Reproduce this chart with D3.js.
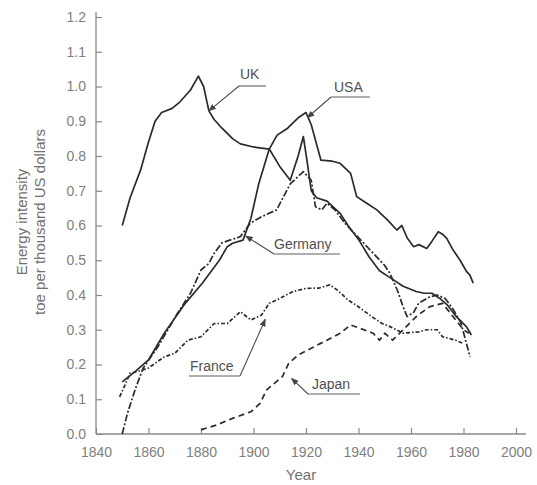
<!DOCTYPE html>
<html>
<head>
<meta charset="utf-8">
<script src="https://cdn.jsdelivr.net/npm/d3@7"></script>
<style>
  html, body { margin: 0; padding: 0; background: #fff; }
  svg { display: block; }
  text { font-family: "Liberation Sans", Arial, sans-serif; }
</style>
</head>
<body>
<svg id="chart" width="537" height="485"></svg>
<script>
// ---- Data (year, toe per thousand US dollars) ----
const xTicks = [1840, 1860, 1880, 1900, 1920, 1940, 1960, 1980, 2000];
const yTicks = [0.0, 0.1, 0.2, 0.3, 0.4, 0.5, 0.6, 0.7, 0.8, 0.9, 1.0, 1.1, 1.2];

const ukYears  = [1850,1853,1857,1860,1862.5,1865,1869,1872,1876,1879,1881,1883,1885,1888,1892,1895,1900,1906,1910,1914,1917,1919,1920.5,1922,1924,1928,1933,1936,1940,1944,1948,1952,1957,1962,1965,1968,1971,1974,1977,1981,1983];
const ukVals   = [0.60,0.68,0.76,0.84,0.90,0.925,0.937,0.956,0.99,1.03,1.00,0.93,0.905,0.88,0.85,0.835,0.826,0.82,0.77,0.73,0.80,0.856,0.78,0.70,0.68,0.67,0.635,0.60,0.56,0.51,0.47,0.45,0.425,0.41,0.405,0.405,0.39,0.37,0.34,0.31,0.285];

const usaYears = [1850,1855,1860,1866,1874,1880.5,1887,1890,1892,1896,1899,1902,1906,1909,1913,1917,1920,1922,1925.7,1930,1933,1937,1939.3,1943,1947,1951,1954.6,1956.5,1958.5,1961,1963,1966,1968,1970.4,1972,1973.6,1976,1978.7,1981.2,1982.4,1983.7];
const usaVals  = [0.15,0.18,0.213,0.29,0.376,0.434,0.50,0.539,0.549,0.558,0.62,0.72,0.82,0.86,0.88,0.91,0.925,0.89,0.788,0.785,0.779,0.75,0.683,0.665,0.645,0.616,0.587,0.60,0.565,0.539,0.545,0.534,0.555,0.582,0.575,0.563,0.53,0.50,0.467,0.458,0.434];

const deYears  = [1850,1852,1855,1858,1863.5,1871,1876,1880,1883,1885,1888,1891,1895,1898.7,1903,1908.8,1914,1919,1922,1923.6,1926,1928,1931,1935,1940,1945,1950,1952,1955,1957,1958.5,1961,1963,1967,1970,1973,1976,1979,1982.5];
const deVals   = [0.0,0.06,0.13,0.19,0.25,0.347,0.405,0.472,0.491,0.52,0.55,0.558,0.568,0.606,0.625,0.645,0.72,0.755,0.73,0.654,0.645,0.664,0.645,0.605,0.565,0.525,0.485,0.462,0.41,0.366,0.338,0.35,0.377,0.394,0.40,0.39,0.36,0.32,0.222];

const frYears  = [1849,1851,1853,1856,1860,1866,1870,1875,1880,1885,1890,1895,1899,1903,1906,1910,1915,1920,1925,1929,1932,1936,1940,1945,1949,1952,1957,1963,1966,1970,1972,1977,1980];
const frVals   = [0.107,0.14,0.175,0.18,0.19,0.222,0.232,0.27,0.28,0.318,0.318,0.352,0.328,0.342,0.376,0.39,0.41,0.419,0.42,0.429,0.414,0.386,0.366,0.338,0.318,0.309,0.29,0.294,0.30,0.30,0.28,0.27,0.26];

const jpYears  = [1880,1886,1892,1899,1902.5,1905,1911,1913.4,1917,1922,1928,1933,1937,1940.6,1945.6,1948,1950,1953,1957,1962,1967,1972,1976,1980,1982];
const jpVals   = [0.012,0.026,0.045,0.064,0.088,0.127,0.165,0.203,0.227,0.247,0.27,0.29,0.314,0.304,0.29,0.27,0.29,0.27,0.30,0.338,0.366,0.376,0.338,0.30,0.29];

const series = [
  { name: "UK",      years: ukYears,  vals: ukVals,  dash: null },
  { name: "USA",     years: usaYears, vals: usaVals, dash: null },
  { name: "Germany", years: deYears,  vals: deVals,  dash: "7,2,2,2" },
  { name: "France",  years: frYears,  vals: frVals,  dash: "4,2,1.5,2" },
  { name: "Japan",   years: jpYears,  vals: jpVals,  dash: "6,4" }
];

// ---- Layout ----
const svg = d3.select("#chart");
const x = d3.scaleLinear().domain([1840, 2000]).range([96, 516]);
const y = d3.scaleLinear().domain([0, 1.2]).range([434, 17]);
const axisColor = "#8a8a8a";
const lineColor = "#2b2b2b";

// axes
const yAxis = svg.append("g").attr("transform", "translate(96,0)")
  .call(d3.axisRight(y).tickValues(yTicks).tickSize(6).tickFormat(d3.format(".1f")));
yAxis.select(".domain").remove();
yAxis.selectAll("text").attr("x", -10).attr("text-anchor", "end");

const xAxis = svg.append("g").attr("transform", "translate(0,434)")
  .call(d3.axisTop(x).tickValues(xTicks).tickSize(6).tickFormat(d3.format("d")));
xAxis.select(".domain").remove();
xAxis.selectAll("text").attr("y", 23).attr("dy", "0");

[yAxis, xAxis].forEach(g => {
  g.selectAll("line").attr("stroke", axisColor).attr("stroke-width", 1.2);
  g.selectAll("text").attr("fill", "#808080").attr("font-size", 14)
    .attr("font-family", "'Liberation Sans', Arial, sans-serif");
});

svg.append("line").attr("x1", 96).attr("x2", 96).attr("y1", 12).attr("y2", 434)
  .attr("stroke", axisColor).attr("stroke-width", 1.3);
svg.append("line").attr("x1", 96).attr("x2", 526).attr("y1", 434).attr("y2", 434)
  .attr("stroke", axisColor).attr("stroke-width", 1.3);

// axis titles
svg.append("text").attr("transform", "translate(27,222) rotate(-90)")
  .attr("text-anchor", "middle").attr("font-size", 15).attr("fill", "#707070")
  .text("Energy intensity");
svg.append("text").attr("transform", "translate(45,222) rotate(-90)")
  .attr("text-anchor", "middle").attr("font-size", 15).attr("fill", "#707070")
  .text("toe per thousand US dollars");
svg.append("text").attr("x", 301).attr("y", 480).attr("text-anchor", "middle")
  .attr("font-size", 15).attr("fill", "#707070").text("Year");

// lines
const line = d3.line().x(d => x(d[0])).y(d => y(d[1])).curve(d3.curveLinear);
series.forEach(s => {
  const pts = s.years.map((yr, i) => [yr, s.vals[i]]);
  svg.append("path").datum(pts).attr("d", line)
    .attr("fill", "none").attr("stroke", lineColor).attr("stroke-width", 1.7)
    .attr("stroke-linejoin", "round")
    .attr("stroke-dasharray", s.dash);
});

// labels with underline and leader arrows
svg.append("defs").append("marker").attr("id", "arr")
  .attr("viewBox", "0 0 10 10").attr("refX", 9).attr("refY", 5)
  .attr("markerWidth", 7).attr("markerHeight", 7).attr("orient", "auto")
  .append("path").attr("d", "M0,1 L10,5 L0,9 Z").attr("fill", "#444");

const labels = [
  { name: "UK",      tx: 240, ty: 79,  ux1: 239, ux2: 266, uy: 86,  ax: 239, ay: 86,  px: 1883, pv: 0.93 },
  { name: "USA",     tx: 334, ty: 92,  ux1: 331, ux2: 370, uy: 97,  ax: 331, ay: 97,  px: 1920.5, pv: 0.91 },
  { name: "Germany", tx: 274, ty: 249, ux1: 274, ux2: 340, uy: 254, ax: 274, ay: 254, px: 1897, pv: 0.57 },
  { name: "France",  tx: 190, ty: 371, ux1: 189, ux2: 240, uy: 376, ax: 240, ay: 376, px: 1904.5, pv: 0.33 },
  { name: "Japan",   tx: 312, ty: 389, ux1: 308, ux2: 360, uy: 394, ax: 308, ay: 394, px: 1914.5, pv: 0.16 }
];
labels.forEach(l => {
  svg.append("text").attr("x", l.tx).attr("y", l.ty).attr("font-size", 14)
    .attr("fill", "#505050").text(l.name);
  svg.append("line").attr("x1", l.ux1).attr("x2", l.ux2).attr("y1", l.uy).attr("y2", l.uy)
    .attr("stroke", "#606060").attr("stroke-width", 1.1);
  svg.append("line").attr("x1", l.ax).attr("y1", l.ay).attr("x2", x(l.px)).attr("y2", y(l.pv))
    .attr("stroke", "#505050").attr("stroke-width", 1.1).attr("marker-end", "url(#arr)");
});
</script>
</body>
</html>
